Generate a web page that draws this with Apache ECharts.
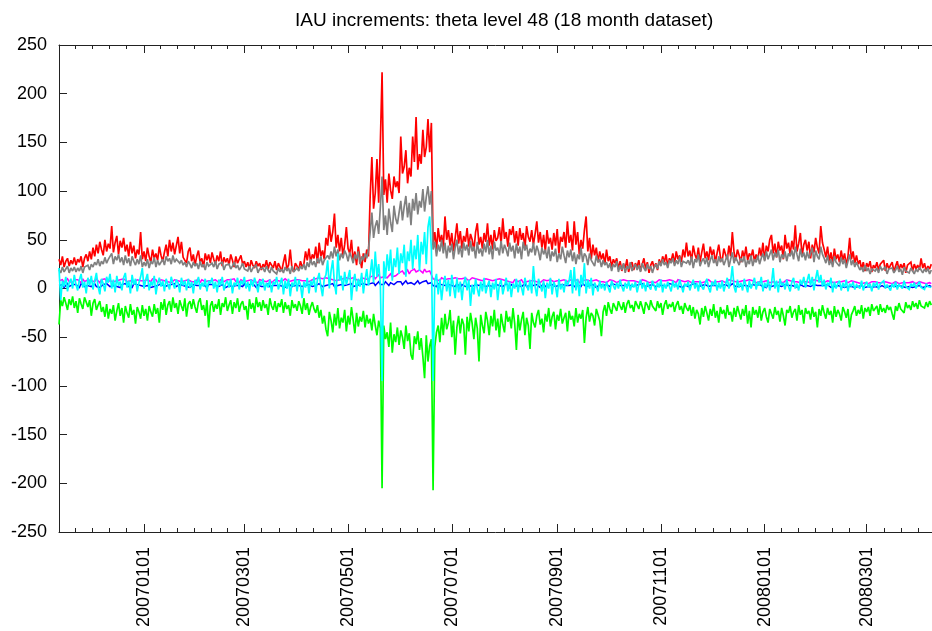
<!DOCTYPE html>
<html>
<head>
<meta charset="utf-8">
<script src="https://cdn.jsdelivr.net/npm/echarts@6/dist/echarts.min.js"></script>
<style>
html,body{margin:0;padding:0;background:#fff;}
#chart{width:932px;height:631px;}
</style>
</head>
<body>
<div id="chart"></div>
<script>
// Daily values starting 2006-11-12
const startDate = '20061112';
const endDate = '20080408';
const tickLabels = ['20070101','20070301','20070501','20070701','20070901','20071101','20080101','20080301'];
const seriesNames = ['red','gray','green','blue','magenta','cyan'];

const red = [
30,24,33,22,28,31,23,29,25,32,
24,30,27,33,22,31,35,28,38,30,
42,33,45,36,48,40,34,50,38,46,
41,64,37,47,54,35,49,42,52,38,
45,33,48,36,44,31,40,35,58,30,
38,28,42,33,27,40,31,36,29,43,
34,28,37,45,33,50,38,47,35,44,
53,36,48,32,30,26,38,42,28,35,
24,33,39,27,31,22,36,29,35,26,
37,30,25,34,28,38,23,32,27,31,
24,35,29,22,33,26,30,34,25,28,
22,27,20,29,24,21,28,23,26,19,
25,22,29,20,27,24,21,28,19,26,
22,18,27,35,20,24,40,21,17,26,
23,19,28,22,25,38,29,41,27,35,
31,43,26,47,33,39,30,52,44,65,
48,58,77,42,55,38,52,33,45,63,
41,36,50,28,38,24,43,31,21,36,
27,40,33,95,135,82,98,133,88,150,
222,96,112,88,118,101,92,115,104,110,
98,156,118,125,142,108,124,115,156,130,
176,122,138,128,163,135,145,174,140,170,
45,58,40,62,48,55,42,74,50,60,
44,57,38,52,67,46,59,41,54,48,
62,43,56,50,39,58,67,45,53,41,
57,48,67,44,55,40,60,49,52,63,
46,72,51,58,43,61,55,64,47,59,
44,62,50,57,41,64,53,48,60,45,
56,69,47,58,42,55,38,60,46,52,
40,57,44,61,36,53,48,58,42,69,
47,55,39,69,45,58,35,50,41,60,
74,38,52,30,45,34,42,27,38,30,
36,25,40,28,33,22,30,26,31,20,
28,18,25,21,30,17,24,27,19,26,
22,29,18,25,31,20,27,16,24,28,
21,26,19,30,24,33,27,35,23,31,
28,36,25,38,30,34,27,40,32,47,
33,39,28,44,35,30,42,27,37,46,
31,38,29,43,34,40,27,36,45,32,
28,41,35,30,44,33,58,37,29,40,
34,27,39,31,43,29,36,32,40,28,
35,30,42,33,47,29,44,38,50,55,
36,46,32,48,39,44,30,55,41,47,
35,49,40,65,38,46,57,33,45,50,
39,48,31,45,37,52,42,36,64,47,
40,32,43,28,37,25,41,30,35,27,
39,29,36,24,33,52,30,38,26,34,
25,29,20,27,18,26,22,28,17,24,
21,27,19,25,23,29,18,26,20,24,
27,17,23,28,19,25,21,26,16,24,
22,27,18,25,20,24,19,31,21,26,
18,23,20,25
];

const gray = [
19,16,22,17,20,23,16,21,18,22,
17,21,18,23,16,22,20,24,19,25,
22,27,24,30,23,28,25,32,26,30,
28,36,25,33,29,35,27,32,24,34,
26,31,23,33,28,24,30,25,34,22,
27,23,30,21,28,25,32,22,29,24,
26,30,24,33,28,31,25,34,27,30,
32,26,29,24,27,22,28,25,21,27,
23,26,20,28,22,25,19,27,23,21,
26,22,28,20,25,23,27,19,24,22,
25,20,23,27,21,24,19,22,26,20,
22,18,23,17,21,19,24,16,20,18,
21,17,23,19,16,22,18,20,15,21,
17,20,16,22,18,21,15,23,17,19,
21,18,23,20,25,19,27,22,30,24,
28,22,31,26,33,24,29,27,34,30,
38,31,43,33,40,29,36,31,39,35,
28,37,32,26,35,30,38,25,33,29,
36,31,40,58,78,52,64,70,56,84,
115,60,75,55,82,68,58,85,72,66,
78,90,70,84,95,73,88,65,92,80,
98,76,90,83,102,79,94,105,86,100,
40,48,33,45,38,50,36,47,31,44,
37,46,30,42,50,35,44,32,47,39,
45,34,49,38,43,31,48,36,41,33,
46,37,50,35,44,30,48,39,42,34,
49,36,45,40,33,47,38,44,31,46,
36,43,30,48,39,45,33,41,37,47,
34,44,38,29,42,35,40,31,43,28,
38,33,41,27,36,30,43,34,26,39,
32,40,28,37,25,35,30,42,27,36,
33,24,36,29,31,23,34,27,30,22,
29,24,27,21,26,18,25,22,28,17,
24,19,26,16,23,20,27,18,22,25,
19,24,17,26,21,18,25,20,23,16,
22,25,20,28,23,30,24,27,21,29,
26,31,23,29,25,33,22,28,30,26,
29,24,33,21,30,27,35,23,28,31,
25,32,22,29,34,26,30,23,33,27,
31,24,29,35,22,30,37,26,32,28,
24,31,27,33,22,29,25,34,23,30,
27,34,25,31,36,28,38,30,35,40,
29,37,32,40,27,35,31,38,28,36,
33,39,30,43,35,28,41,32,37,29,
38,31,36,42,27,39,33,30,43,35,
31,26,34,24,30,22,33,27,29,23,
32,25,30,21,28,35,24,29,22,27,
23,19,22,17,24,18,21,15,20,22,
18,21,16,23,19,17,22,15,20,18,
21,16,19,23,17,20,14,22,18,19,
16,21,18,15,20,17,22,19,16,20,
17,21,15,19
];

const green = [
-37,-12,-18,-9,-15,-22,-11,-17,-8,-20,
-13,-25,-10,-16,-21,-9,-14,-19,-12,-28,
-15,-11,-22,-17,-13,-24,-19,-29,-16,-31,
-21,-26,-17,-33,-23,-15,-28,-20,-35,-18,
-25,-30,-16,-27,-22,-36,-19,-24,-31,-17,
-28,-21,-33,-18,-24,-29,-16,-26,-20,-35,
-14,-22,-11,-27,-17,-13,-24,-9,-20,-15,
-26,-12,-18,-23,-10,-29,-16,-13,-21,-11,
-19,-25,-14,-10,-22,-17,-28,-12,-40,-18,
-13,-24,-16,-21,-11,-27,-15,-19,-9,-23,
-17,-12,-26,-14,-20,-10,-24,-16,-13,-22,
-18,-32,-11,-21,-15,-25,-9,-19,-14,-23,
-12,-20,-16,-27,-10,-18,-22,-13,-24,-15,
-19,-11,-25,-14,-21,-17,-28,-12,-20,-16,
-23,-13,-18,-26,-10,-22,-15,-27,-19,-14,
-21,-25,-17,-30,-22,-36,-28,-42,-49,-24,
-33,-45,-26,-38,-20,-41,-30,-35,-22,-44,
-28,-37,-19,-32,-46,-25,-39,-29,-34,-23,
-40,-27,-36,-31,-43,-26,-38,-48,-33,-41,
-205,-38,-52,-45,-60,-35,-66,-47,-55,-40,
-58,-43,-50,-62,-38,-54,-46,-68,-73,-49,
-57,-44,-63,-51,-70,-92,-48,-75,-59,-52,
-207,-60,-45,-38,-55,-30,-48,-26,-42,-35,
-22,-50,-33,-68,-40,-28,-46,-31,-37,-68,
-29,-44,-25,-36,-52,-30,-41,-75,-27,-38,
-46,-24,-33,-48,-28,-39,-22,-43,-31,-50,
-26,-37,-45,-23,-34,-29,-41,-20,-36,-63,
-27,-43,-32,-24,-48,-30,-38,-62,-25,-35,
-40,-28,-22,-37,-31,-45,-26,-34,-20,-39,
-29,-24,-42,-27,-33,-21,-36,-30,-25,-44,
-23,-32,-28,-39,-20,-35,-26,-31,-22,-56,
-30,-19,-34,-25,-28,-38,-21,-27,-33,-49,
-24,-17,-28,-14,-21,-26,-15,-19,-23,-13,
-18,-22,-14,-25,-16,-12,-20,-17,-24,-13,
-15,-21,-13,-19,-26,-14,-17,-22,-12,-18,
-16,-23,-13,-20,-15,-27,-17,-12,-21,-16,
-19,-14,-24,-17,-13,-22,-18,-26,-15,-20,
-23,-17,-28,-19,-31,-22,-26,-37,-20,-29,
-18,-25,-33,-21,-28,-16,-30,-23,-35,-19,
-26,-22,-31,-17,-27,-24,-34,-20,-29,-18,
-25,-32,-21,-28,-17,-36,-23,-40,-19,-27,
-22,-30,-18,-33,-24,-20,-29,-35,-21,-26,
-31,-19,-27,-23,-34,-20,-28,-38,-22,-25,
-18,-30,-24,-21,-33,-17,-27,-22,-36,-20,
-26,-23,-32,-19,-29,-24,-40,-21,-28,-17,
-25,-31,-20,-27,-23,-35,-18,-29,-22,-26,
-33,-19,-24,-30,-21,-40,-27,-23,-18,-28,
-22,-26,-17,-31,-20,-24,-19,-28,-16,-23,
-21,-18,-27,-16,-24,-20,-25,-17,-22,-19,
-26,-32,-18,-23,-15,-21,-19,-25,-14,-20,
-17,-22,-13,-19,-15,-21,-12,-18,-16,-20,
-14,-19,-13,-17
];

const blue = [
3,2,4,1,3,5,2,3,4,2,
4,3,1,5,3,2,4,3,5,2,
3,5,2,4,1,3,4,2,5,3,
2,4,3,5,2,3,1,4,3,5,
4,2,3,1,5,3,4,2,3,4,
2,4,3,5,1,3,2,4,3,2,
5,3,2,4,3,1,4,3,5,2,
3,4,2,3,5,2,4,1,3,4,
2,3,5,3,2,4,3,1,4,3,
4,2,3,5,2,3,4,2,1,3,
3,5,2,4,3,1,3,4,2,5,
2,3,4,2,5,3,1,4,3,2,
4,2,3,5,2,4,3,1,3,4,
3,4,2,3,1,5,3,2,4,3,
2,3,5,2,4,3,1,4,3,2,
4,3,2,5,3,2,4,3,1,4,
3,5,2,4,3,2,4,5,3,2,
4,3,5,2,4,3,2,4,3,5,
3,4,2,5,4,6,3,5,7,4,
6,4,7,5,3,6,8,4,5,7,
5,7,4,6,8,5,3,6,7,4,
6,8,5,4,7,6,8,5,7,6,
3,4,2,5,3,4,2,3,5,4,
2,3,4,2,5,3,1,4,3,2,
4,3,5,2,3,4,2,3,1,4,
3,2,4,3,5,2,3,4,2,3,
4,2,3,5,3,1,4,3,2,4,
3,4,2,3,5,2,4,3,1,3,
2,4,3,1,3,5,2,4,3,2,
4,3,2,4,3,1,4,2,3,5,
3,2,4,3,1,4,3,2,5,3,
2,4,3,2,4,3,1,3,4,2,
3,2,4,3,2,5,3,4,2,3,
4,3,2,3,1,4,3,2,4,3,
2,4,3,5,3,2,4,3,2,4,
3,2,4,3,1,3,4,2,3,5,
3,4,2,3,4,2,3,1,4,3,
2,3,4,2,5,3,2,4,3,2,
4,3,2,4,3,1,3,4,2,3,
3,2,4,3,2,4,5,3,2,4,
2,4,3,1,3,4,2,3,4,2,
3,2,4,3,2,3,1,4,3,2,
4,3,2,3,5,2,3,4,2,3,
2,3,4,2,3,1,4,3,2,4,
3,4,2,3,4,2,3,5,3,2,
3,2,4,3,1,3,2,4,3,2,
2,3,1,3,2,4,2,3,1,3,
2,1,3,2,1,3,2,2,1,3,
2,3,1,2,3,2,1,3,2,2,
3,1,2,2,3,1,2,3,1,2,
2,3,1,2,2,1,3,2,1,2,
2,1,3,2
];

const magenta = [
8,7,9,6,8,10,7,8,6,9,
7,9,8,6,10,7,8,9,7,8,
9,7,10,8,6,9,8,10,7,9,
8,10,7,9,8,6,9,7,10,8,
7,9,8,10,6,8,9,7,8,10,
8,6,9,8,7,10,8,9,6,8,
9,7,8,10,7,9,6,8,9,7,
8,10,7,9,8,6,9,8,7,9,
7,8,10,6,9,8,7,9,8,10,
8,7,9,8,6,9,10,7,8,9,
7,9,8,10,7,8,6,9,8,7,
9,8,7,9,10,7,8,6,9,8,
8,10,7,8,9,6,8,9,7,8,
9,7,8,10,8,7,9,8,6,9,
8,9,7,8,10,8,9,7,8,9,
9,10,8,11,9,10,8,11,9,10,
10,9,11,8,10,9,11,10,9,11,
9,10,8,11,10,9,10,8,11,9,
10,11,9,12,11,13,10,12,14,11,
13,12,14,11,13,15,12,14,13,15,
16,14,18,15,17,19,15,18,16,20,
17,15,19,18,16,20,17,19,18,16,
10,11,9,10,8,11,10,9,11,10,
9,10,8,11,9,10,8,10,9,11,
10,8,9,11,9,10,8,9,10,8,
9,10,8,9,11,8,10,9,8,10,
8,9,7,8,9,7,8,6,9,8,
7,8,9,6,8,7,9,8,7,8,
9,7,8,6,8,9,7,8,7,9,
8,7,9,8,6,8,7,9,8,7,
8,9,7,8,7,9,6,8,8,7,
9,7,8,6,8,7,9,8,7,8,
7,8,6,8,9,7,8,7,6,8,
8,7,9,7,8,6,8,7,8,9,
7,8,6,9,7,8,7,6,8,7,
8,6,7,9,7,8,6,8,7,9,
7,8,7,6,9,7,8,6,7,8,
8,7,6,8,7,9,7,8,6,7,
7,8,9,7,6,8,7,8,7,6,
8,7,6,8,9,7,8,6,7,8,
7,6,8,7,8,6,9,7,8,7,
6,8,7,9,7,6,8,7,6,8,
7,9,6,8,7,8,6,7,9,7,
8,6,7,8,7,9,6,8,7,6,
7,8,6,7,9,7,8,6,7,8,
6,7,8,6,7,8,6,7,7,8,
7,6,8,7,6,7,8,6,7,6,
6,7,5,7,6,7,5,6,7,6,
7,5,6,7,6,5,7,6,6,7,
5,6,7,6,5,7,6,5,6,7,
6,5,7,6,5,6,7,5,6,6,
5,7,6,5
];

const cyan = [
21,-12,8,2,12,-3,6,10,0,14,
4,-2,9,15,1,7,-5,11,3,13,
-1,8,16,2,-6,10,5,-3,12,6,
15,0,9,-4,13,3,7,-2,11,16,
1,8,-5,14,4,10,-3,6,12,21,
0,9,15,-2,7,3,13,-6,5,11,
2,8,-3,10,4,-1,12,5,0,9,
6,-4,11,3,8,-2,10,1,7,-5,
9,4,12,-1,6,2,10,-3,8,5,
11,0,7,-4,9,3,12,-2,5,8,
1,10,-5,6,3,11,-1,8,4,12,
0,7,-3,9,2,11,5,-4,8,3,
10,-2,6,1,9,-4,7,4,12,-1,
5,11,-6,8,0,10,-8,6,2,12,
-3,9,4,-10,7,1,11,-5,8,3,
12,-4,9,16,2,-8,10,14,29,0,
18,29,5,-6,36,8,13,-2,17,4,
11,19,-12,7,15,-3,10,2,16,-5,
9,20,3,14,30,6,38,12,25,4,
-95,28,10,35,18,40,8,31,22,42,
15,36,26,45,12,38,28,50,20,44,
30,55,18,48,35,58,25,63,74,40,
-95,8,15,-6,10,-12,4,13,-3,9,
-8,14,2,-10,11,-4,7,-12,5,12,
-2,9,-18,4,-6,10,0,-8,7,-3,
11,-5,3,8,-9,6,-1,10,-12,4,
9,-6,2,11,-3,7,-9,5,0,10,
-4,8,1,-7,11,3,-2,9,-5,23,
2,-8,10,4,-3,8,-10,6,0,11,
-6,7,2,-9,10,-1,5,-4,9,3,
8,19,-5,22,-2,10,-8,14,3,26,
-5,9,0,11,-7,6,2,-3,8,0,
5,-2,7,1,-4,8,3,-1,6,0,
9,2,-3,6,0,8,-2,5,1,7,
-4,4,9,0,6,-3,7,2,-1,8,
3,-2,6,1,9,-4,5,0,7,2,
-3,8,1,6,-1,9,3,-4,5,2,
7,-2,4,9,0,6,-3,8,2,-1,
5,10,1,-4,7,3,9,-2,6,0,
8,-3,4,11,0,7,23,2,-4,9,
1,6,-2,10,3,-4,8,0,5,11,
-1,7,3,12,-3,6,1,9,-2,5,
21,0,8,-4,10,3,6,-1,9,2,
-3,7,11,0,5,-2,9,4,12,1,
8,15,3,12,-2,10,19,6,14,2,
9,-1,6,3,11,-4,7,0,5,8,
-2,6,1,9,-3,5,2,7,-1,4,
6,0,8,-2,4,7,1,5,-3,6,
2,7,-1,5,3,8,0,4,6,-2,
5,1,7,-1,4,6,0,8,2,3,
-1,5,2,6,0,4,7,1,3,-1,
5,2,4,1
];

function parseDate(s) {
  return Date.UTC(+s.slice(0, 4), +s.slice(4, 6) - 1, +s.slice(6, 8));
}
function fmtDate(v) {
  const d = new Date(v);
  const p = n => (n < 10 ? '0' : '') + n;
  return d.getUTCFullYear() + p(d.getUTCMonth() + 1) + p(d.getUTCDate());
}
const DAY = 86400000;
const xMin = parseDate(startDate);
const xMax = parseDate(endDate) + 10 * 3600000;
const dates = red.map((_, i) => xMin + i * DAY);

const majors = tickLabels.map(parseDate);
const bounds = [Date.UTC(2006, 10, 1)].concat(majors, [Date.UTC(2008, 4, 1)]);
const minors = [];
for (let i = 0; i < bounds.length - 1; i++) {
  for (let k = 1; k < 6; k++) {
    const v = bounds[i] + (bounds[i + 1] - bounds[i]) * k / 6;
    if (v > xMin && v < xMax) minors.push(v);
  }
}

const FONT = 'Liberation Sans';
const axisCol = '#222';
function xAx(pos, ticks, len, showLine, showLabel) {
  return {
    type: 'value', min: xMin, max: xMax, position: pos, scale: true,
    axisLine: { show: showLine, onZero: false, lineStyle: { color: axisCol, width: 1 } },
    axisTick: { show: true, inside: true, length: len, customValues: ticks, lineStyle: { color: axisCol, width: 1 } },
    axisLabel: showLabel ? {
      show: true, customValues: ticks, rotate: 90, margin: 15,
      fontFamily: FONT, fontSize: 18, color: '#000',
      formatter: v => fmtDate(v)
    } : { show: false },
    splitLine: { show: false }, minorTick: { show: false }
  };
}

const colors = { red: '#ff0000', gray: '#808080', green: '#00ff00', blue: '#0000ff', magenta: '#ff00ff', cyan: '#00ffff' };
const widths = { red: 1.7, gray: 1.7, green: 1.7, blue: 1.5, magenta: 1.5, cyan: 1.7 };
const dataMap = { red, gray, green, blue, magenta, cyan };

const chart = echarts.init(document.getElementById('chart'), null, { renderer: 'canvas' });
chart.setOption({
  animation: false,
  backgroundColor: '#fff',
  title: {
    text: 'IAU increments: theta level 48 (18 month dataset)',
    left: 290, top: 6,
    textStyle: { fontFamily: FONT, fontSize: 19, fontWeight: 'normal', color: '#000' }
  },
  grid: { left: 59, top: 45, right: 0, bottom: 99, containLabel: false },
  xAxis: [
    xAx('bottom', majors, 8, true, true),
    xAx('bottom', minors, 4, false, false),
    xAx('top', majors, 8, true, false),
    xAx('top', minors, 4, false, false)
  ],
  yAxis: {
    type: 'value', min: -250, max: 250, interval: 50,
    axisLine: { show: true, onZero: false, lineStyle: { color: axisCol, width: 1 } },
    axisTick: { show: true, inside: true, length: 8, lineStyle: { color: axisCol } },
    axisLabel: { fontFamily: FONT, fontSize: 18, color: '#000', margin: 12 },
    splitLine: { show: false }
  },
  series: seriesNames.map(n => ({
    name: n, type: 'line', xAxisIndex: 0,
    data: dates.map((t, i) => [t, dataMap[n][i]]),
    showSymbol: false, symbol: 'none',
    lineStyle: { color: colors[n], width: widths[n], join: 'miter', miterLimit: 2 },
    itemStyle: { color: colors[n] },
    emphasis: { disabled: true }
  }))
});
</script>
</body>
</html>
